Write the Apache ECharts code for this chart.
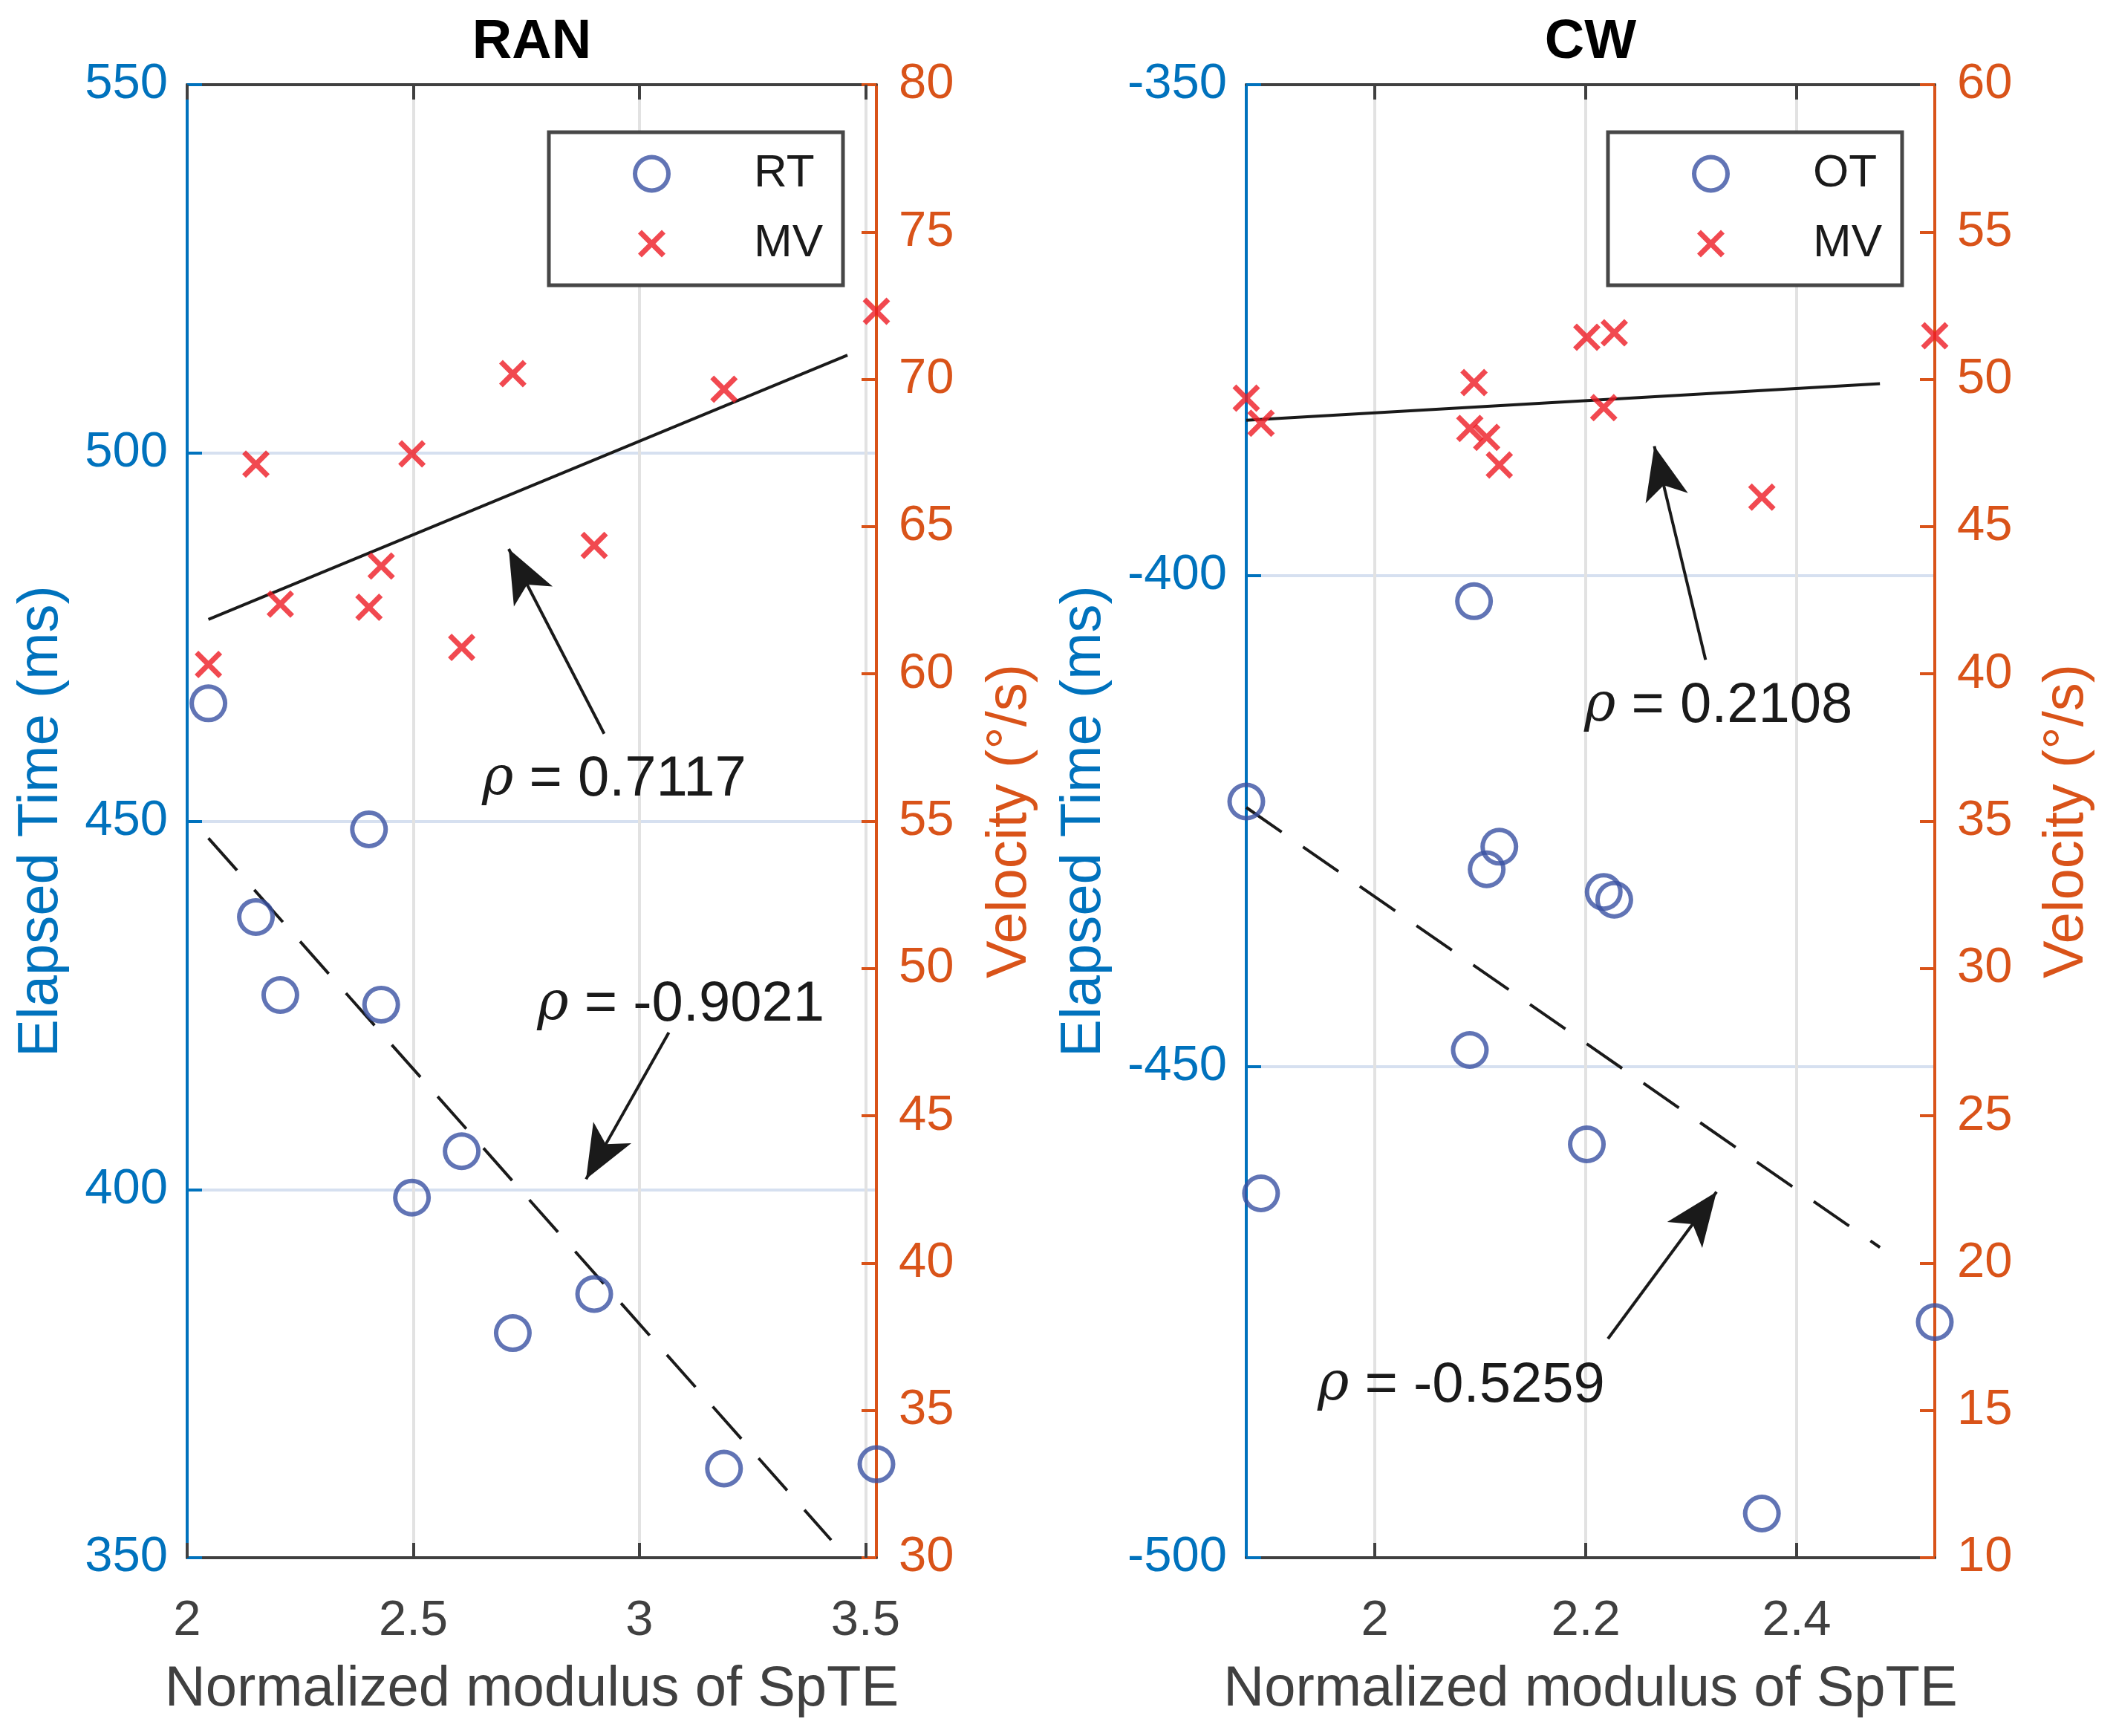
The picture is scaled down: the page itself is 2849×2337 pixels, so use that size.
<!DOCTYPE html>
<html><head><meta charset="utf-8">
<script src="https://cdn.jsdelivr.net/npm/echarts@6/dist/echarts.min.js"></script>
<style>html,body{margin:0;padding:0;background:#fff}#c{width:2849px;height:2337px}</style>
</head><body><div id="c"></div>
<script>
// ---------- data ----------
const ranX  = [2.047, 2.152, 2.206, 2.402, 2.429, 2.497, 2.607, 2.720, 2.900, 3.187, 3.524];
const ranRT = [466.0, 437.0, 426.4, 448.9, 425.1, 398.9, 405.2, 380.5, 385.8, 362.1, 362.7];
const ranMV = [60.32, 67.12, 62.37, 62.26, 63.66, 67.47, 60.90, 70.19, 64.36, 69.66, 72.31];

const cwX  = [1.878, 1.892, 2.090, 2.094, 2.106, 2.118, 2.201, 2.217, 2.227, 2.367, 2.531];
const cwOT = [-423.0, -462.9, -448.3, -402.6, -429.9, -427.6, -457.9, -432.2, -433.0, -495.5, -476.0];
const cwMV = [49.36, 48.51, 48.33, 49.89, 48.03, 47.09, 51.43, 49.04, 51.58, 46.00, 51.48];

// regression lines (end points)
const ranRTFitX = [2.047, 3.424], ranRTFitY = [447.7, 352.4];
const ranMVFitX = [2.047, 3.460], ranMVFitY = [61.85, 70.82];
const cwOTFitX  = [1.878, 2.479], cwOTFitY  = [-423.6, -468.4];
const cwMVFitX  = [1.878, 2.479], cwMVFitY  = [48.61, 49.85];

// annotation arrows [tail, tip] and text anchors
const ranMVArrow = [[2.922, 57.97], [2.711, 64.24]];
const ranRTArrow = [[3.065, 421.3], [2.882, 401.4]];
const cwMVArrow  = [[2.3136, 40.48], [2.265, 47.73]];
const cwOTArrow  = [[2.221, -477.7], [2.324, -462.75]];
const ranMVRho = {x: 2.652, y: 56.4, text: '0.7117'};
const ranRTRho = {x: 2.774, y: 425.0, text: '-0.9021'};
const cwMVRho  = {x: 2.1985, y: 38.9, text: '0.2108'};
const cwOTRho  = {x: 1.9457, y: -482.5, text: '-0.5259'};

// axes ticks
const ranXTicks = [2, 2.5, 3, 3.5];
const cwXTicks  = [2, 2.2, 2.4];
const ranXRange = [2, 3.524];
const cwXRange  = [1.878, 2.531];

const titles = ['RAN', 'CW'];
const xName = 'Normalized modulus of SpTE';
const yLeftName = 'Elapsed Time (ms)';
const yRightName = 'Velocity (°/s)';

// ---------- style ----------
const FONT = '"Liberation Sans", Arial, Helvetica, sans-serif';
const BLUE = '#0072BD', ORANGE = '#D95319', GRAY = '#404040';
const CIRC = '#3a51a3', CROSS = '#ED1C24', INK = '#1a1a1a';
// ring (outer 51, stroke 6) and cross (37 within a 51 box)
const ringPath = 'path://M0,25.5A25.5,25.5 0 1,0 51,25.5A25.5,25.5 0 1,0 0,25.5ZM6,25.5A19.5,19.5 0 1,1 45,25.5A19.5,19.5 0 1,1 6,25.5Z';
const crossPath = 'path://M-3.78,-3.78L-3.78,-3.78M23.78,23.78L23.78,23.78M0,2.7L2.7,0L10,7.3L17.3,0L20,2.7L12.7,10L20,17.3L17.3,20L10,12.7L2.7,20L0,17.3L7.3,10Z';
const SYM = 51;

const grids = [
  {left: 252, top: 114, width: 928, height: 1983},
  {left: 1678, top: 114, width: 927, height: 1983}
];

function zip(a, b) { return a.map((v, i) => [v, b[i]]); }

function xAxes(gi, range, ticks) {
  const fmt = v => ticks.some(t => Math.abs(t - v) < 1e-9) ? String(v) : '';
  return [{
    type: 'value', gridIndex: gi, position: 'bottom', min: range[0], max: range[1],
    name: xName, nameLocation: 'middle', nameGap: 140,
    nameTextStyle: {fontSize: 76, color: GRAY, fontFamily: FONT},
    axisLine: {show: true, lineStyle: {color: GRAY, width: 4}},
    axisTick: {show: true, inside: true, length: 20, customValues: ticks, lineStyle: {color: GRAY, width: 4}},
    axisLabel: {show: true, margin: 52, fontSize: 67, color: GRAY, fontFamily: FONT, customValues: ticks, formatter: fmt},
    splitLine: {show: true, lineStyle: {color: '#e2e2e2', width: 4}}
  }, {
    type: 'value', gridIndex: gi, position: 'top', min: range[0], max: range[1],
    axisLine: {show: true, lineStyle: {color: GRAY, width: 4}},
    axisTick: {show: true, inside: true, length: 20, customValues: ticks, lineStyle: {color: GRAY, width: 4}},
    axisLabel: {show: false}, splitLine: {show: false}
  }];
}

function yAxes(gi, lmin, lmax, rmin, rmax, lGap, rGap) {
  return [{
    type: 'value', gridIndex: gi, position: 'left', min: lmin, max: lmax, interval: 50,
    name: yLeftName, nameLocation: 'middle', nameGap: lGap,
    nameTextStyle: {fontSize: 76, color: BLUE, fontFamily: FONT},
    axisLine: {show: true, lineStyle: {color: BLUE, width: 4}},
    axisTick: {show: true, inside: true, length: 20, lineStyle: {color: BLUE, width: 4}},
    axisLabel: {margin: 26, fontSize: 67, color: BLUE, fontFamily: FONT},
    splitLine: {show: true, lineStyle: {color: '#d6e0f0', width: 4}}
  }, {
    type: 'value', gridIndex: gi, position: 'right', min: rmin, max: rmax, interval: 5,
    name: yRightName, nameLocation: 'middle', nameGap: rGap,
    nameTextStyle: {fontSize: 76, color: ORANGE, fontFamily: FONT},
    axisLine: {show: true, lineStyle: {color: ORANGE, width: 4}},
    axisTick: {show: true, inside: true, length: 20, lineStyle: {color: ORANGE, width: 4}},
    axisLabel: {margin: 30, fontSize: 67, color: ORANGE, fontFamily: FONT},
    splitLine: {show: false}
  }];
}

function circleSeries(name, xi, yi, xs, ys) {
  return {name, type: 'scatter', xAxisIndex: xi, yAxisIndex: yi, clip: false, z: 4,
    symbol: ringPath, symbolSize: SYM,
    itemStyle: {color: CIRC, borderWidth: 0},
    data: zip(xs, ys)};
}
function crossSeries(name, xi, yi, xs, ys) {
  return {name, type: 'scatter', xAxisIndex: xi, yAxisIndex: yi, clip: false, z: 4,
    symbol: crossPath, symbolSize: SYM,
    itemStyle: {color: CROSS, borderWidth: 0},
    data: zip(xs, ys)};
}
function fitSeries(name, xi, yi, xs, ys, dashed, arrow, rho) {
  return {name, type: 'line', xAxisIndex: xi, yAxisIndex: yi, z: 3, showSymbol: false, symbol: 'none',
    clip: false, silent: true,
    lineStyle: {color: INK, width: 4, type: dashed ? [58, 35] : 'solid'},
    data: zip(xs, ys),
    markLine: {silent: true, symbol: ['none', 'arrow'], symbolSize: [44, 72],
      label: {show: false}, lineStyle: {color: INK, width: 4, type: 'solid'},
      data: [[{coord: arrow[0]}, {coord: arrow[1]}]]},
    markPoint: {silent: true, symbol: 'circle', symbolSize: 0,
      itemStyle: {color: 'rgba(0,0,0,0)'},
      label: {show: true, position: 'right', distance: 0, fontSize: 76, color: INK, fontFamily: FONT,
        formatter: '{i|ρ} = ' + rho.text,
        rich: {i: {fontStyle: 'italic', fontFamily: '"DejaVu Serif", serif', fontSize: 72, color: INK}}},
      data: [{coord: [rho.x, rho.y]}]}
  };
}

function legend(left, first) {
  return {
    orient: 'vertical', left: left, top: 178,
    backgroundColor: '#fff', borderColor: '#474747', borderWidth: 5, borderRadius: 0,
    padding: [25, 27, 25, 113], itemWidth: SYM, itemHeight: SYM, itemGap: 32,
    textStyle: {fontSize: 62, color: INK, fontFamily: FONT, padding: [0, 0, 0, 107]},
    selectedMode: false,
    data: [first, 'MV']
  };
}

const chart = echarts.init(document.getElementById('c'), null, {renderer: 'canvas'});
chart.setOption({
  animation: false,
  backgroundColor: '#fff',
  grid: grids,
  xAxis: [...xAxes(0, ranXRange, ranXTicks), ...xAxes(1, cwXRange, cwXTicks)],
  yAxis: [...yAxes(0, 350, 550, 30, 80, 158, 142), ...yAxes(1, -500, -350, 10, 60, 180, 140)],
  legend: [legend(739, 'RT'), legend(2165, 'OT')],
  graphic: titles.map((t, i) => ({
    type: 'text', x: grids[i].left + grids[i].width / 2, y: 58,
    style: {text: t, font: 'bold 74px ' + FONT, fill: '#000', align: 'center', verticalAlign: 'middle',
      textAlign: 'center', textVerticalAlign: 'middle'}
  })),
  series: [
    fitSeries('fitRanMV', 0, 1, ranMVFitX, ranMVFitY, false, ranMVArrow, ranMVRho),
    fitSeries('fitRanRT', 0, 0, ranRTFitX, ranRTFitY, true, ranRTArrow, ranRTRho),
    circleSeries('RT', 0, 0, ranX, ranRT),
    crossSeries('MV', 0, 1, ranX, ranMV),
    fitSeries('fitCwMV', 2, 3, cwMVFitX, cwMVFitY, false, cwMVArrow, cwMVRho),
    fitSeries('fitCwOT', 2, 2, cwOTFitX, cwOTFitY, true, cwOTArrow, cwOTRho),
    circleSeries('OT', 2, 2, cwX, cwOT),
    crossSeries('MV', 2, 3, cwX, cwMV)
  ]
});
</script></body></html>
